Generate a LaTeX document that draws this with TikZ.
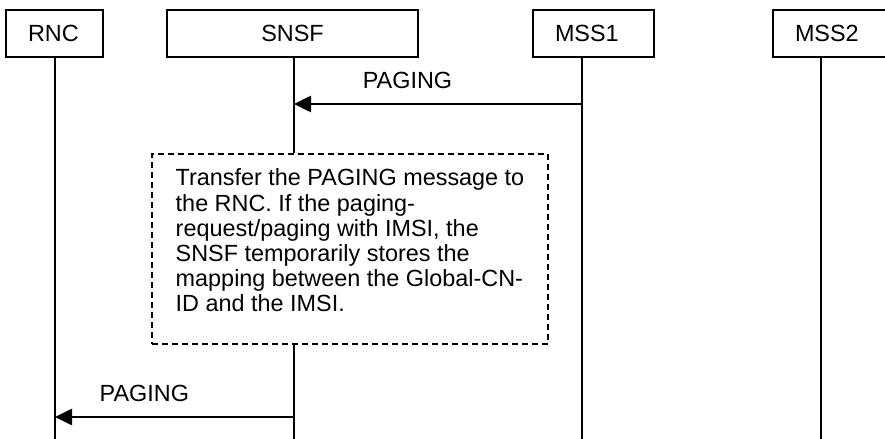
\documentclass[tikz,border=0pt]{standalone}
\usepackage{fontspec}
\setmainfont{Liberation Sans}
\usetikzlibrary{arrows.meta, positioning, calc}

\begin{document}
\begin{tikzpicture}[
  x=0.5pt, y=-0.5pt,
  ent/.style = {
    rectangle, draw=black, line width=1pt, minimum height=23.5pt,
    inner xsep=11pt, inner ysep=0pt, font=\fontsize{11.7}{12.6}\selectfont
  },
  notebox/.style = {
    rectangle, draw=black, line width=1pt, dash pattern=on 3pt off 2pt,
    minimum width=198pt, minimum height=95pt, align=left, text depth=8.5pt,
    font=\fontsize{11.7}{12.6}\selectfont
  },
  life/.style = {line width=1pt},
  msg/.style = {-{Triangle[length=8.5pt, width=8pt]}, line width=1.3pt},
  lbl/.style = {anchor=base, yshift=8pt, inner sep=0pt, font=\fontsize{11.7}{12.6}\selectfont}
]

  \clip (0,0) rectangle (885,439);

  % Entitas di baris atas
  \node[ent, text width=26.5pt, align=left] (rnc)  at (54.5,33.5)  {RNC};
  \node[ent, minimum width=125.5pt]         (snsf) at (292.5,33.5) {SNSF};
  \node[ent, text width=38.5pt, align=left] (mss1) at (593.5,33.5) {MSS1};
  \node[ent, text width=38.5pt, align=left] (mss2) at (833.5,33.5) {MSS2};

  % Kotak keterangan (garis putus-putus)
  \node[notebox] (tr) at (350,249) {Transfer the PAGING message to\\the RNC. If the paging-\\request/paging with IMSI, the\\SNSF temporarily stores the\\mapping between the Global-CN-\\ID and the IMSI.};

  % Ujung bawah garis hidup
  \coordinate (rncL)  at (55,439);
  \coordinate (snsfL) at (294,439);
  \coordinate (mss1L) at (582,439);
  \coordinate (mss2L) at (821,439);

  % Garis hidup
  \draw[life] (rncL |- rnc.south) -- (rncL);
  \draw[life] (snsfL |- snsf.south) -- (snsfL |- tr.north);
  \draw[life] (snsfL |- tr.south) -- (snsfL);
  \draw[life] (mss1L |- mss1.south) -- (mss1L);
  \draw[life] (mss2L |- mss2.south) -- (mss2L);

  % Pesan PAGING
  \coordinate (p1) at (0,104);
  \coordinate (p2) at (0,417);
  \draw[msg] (mss1L |- p1) -- (snsfL |- p1) node[lbl, pos=0.606] {PAGING};
  \draw[msg] (snsfL |- p2) -- (rncL |- p2) node[lbl, pos=0.626] {PAGING};

\end{tikzpicture}
\end{document}
